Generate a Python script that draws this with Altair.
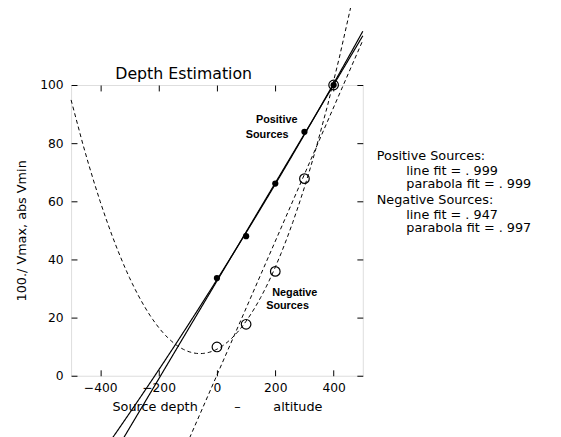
import altair as alt
import pandas as pd

# ---- data ----
src_x = [0, 100, 200, 300, 400]
pos_y = [33.6, 48.0, 66.1, 83.9, 100.0]
neg_y = [9.9, 17.7, 35.9, 67.8, 100.0]

x_ticks = [-400, -200, 0, 200, 400]
y_ticks = [0, 20, 40, 60, 80, 100]

label_text = ["Positive", "Sources", "Negative", "Sources"]
label_x = [205, 172, 267, 242]
label_y = [87.9, 82.8, 28.6, 24.1]

side_text = ["Positive Sources:", "line fit = . 999", "parabola fit = . 999",
             "Negative Sources:", "line fit = . 947", "parabola fit = . 997"]
side_x = [548, 649, 649, 548, 649, 649]
side_y = [75.7, 70.4, 65.9, 60.4, 55.4, 50.8]

title_text = ["Depth Estimation"]
title_x = [-114]
title_y = [103.8]

NB = "\u00a0"
x_title = "Source depth" + NB * 9 + "\u2013" + NB * 8 + "altitude"
y_title = "100./ Vmax, abs Vmin"

pts = pd.DataFrame({
    "x": src_x + src_x,
    "y": pos_y + neg_y,
    "series": ["pos"] * len(src_x) + ["neg"] * len(src_x),
})
ann = pd.DataFrame({"x": label_x, "y": label_y, "t": label_text})
side = pd.DataFrame({"x": side_x, "y": side_y, "t": side_text})
ttl = pd.DataFrame({"x": title_x, "y": title_y, "t": title_text})

W, H = 296, 295
FONT = "DejaVu Sans"
xs = alt.Scale(domain=[-500, 500], nice=False, zero=False)
ys = alt.Scale(domain=[0, 100], nice=False, zero=False)

common = dict(grid=False, domain=False, tickColor="black", tickWidth=1)

x_main = alt.Axis(orient="bottom", values=x_ticks, ticks=False, tickSize=0, labelFontSize=12.5,
                  labelFont=FONT, labelColor="black", labelPadding=6, format="d",
                  title=x_title, titleFont=FONT, titleFontSize=13, titleFontWeight="normal",
                  titleColor="black", titlePadding=7, **common)
x_in_bottom = alt.Axis(orient="top", offset=-H, values=x_ticks, ticks=True, tickSize=6,
                       labels=False, title="", **common)
x_in_top = alt.Axis(orient="bottom", offset=-H, values=x_ticks, ticks=True, tickSize=6,
                    labels=False, title="", **common)

y_main = alt.Axis(orient="left", values=y_ticks, ticks=False, tickSize=0, labelFontSize=12.5,
                  labelFont=FONT, labelColor="black", labelPadding=8, format="d",
                  title=y_title, titleFont=FONT, titleFontSize=13, titleFontWeight="normal",
                  titleColor="black", titlePadding=11, **common)
y_in_left = alt.Axis(orient="right", offset=-W, values=y_ticks, ticks=True, tickSize=6,
                     labels=False, title="", **common)
y_in_right = alt.Axis(orient="left", offset=-W, values=y_ticks, ticks=True, tickSize=6,
                      labels=False, title="", **common)

base = alt.Chart(pts)

pos_pts = base.transform_filter(alt.datum.series == "pos").mark_point(
    filled=True, size=40, color="black", opacity=1
).encode(
    x=alt.X("x:Q", scale=xs, axis=x_main),
    y=alt.Y("y:Q", scale=ys, axis=y_main),
)

neg_pts = base.transform_filter(alt.datum.series == "neg").mark_point(
    filled=False, size=95, color="black", strokeWidth=1.2, opacity=1
).encode(
    x=alt.X("x:Q", scale=xs, axis=x_in_bottom),
    y=alt.Y("y:Q", scale=ys, axis=y_in_left),
)

dash = alt.StrokeDash("series:N", scale=alt.Scale(domain=["pos", "neg"], range=[[1, 0], [4, 3]]),
                      legend=None)
width_enc = alt.StrokeWidth("series:N", scale=alt.Scale(domain=["pos", "neg"], range=[1.2, 1]),
                            legend=None)

lin = base.transform_regression(
    "x", "y", method="linear", groupby=["series"], extent=[-500, 500]
).mark_line(color="black", clip=False).encode(
    x=alt.X("x:Q", scale=xs, axis=x_in_top),
    y=alt.Y("y:Q", scale=ys, axis=y_in_right),
    strokeDash=dash,
    strokeWidth=width_enc,
)

par = base.transform_regression(
    "x", "y", method="poly", order=2, groupby=["series"], extent=[-500, 500]
).mark_line(color="black", clip=False).encode(
    x=alt.X("x:Q", scale=xs, axis=None),
    y=alt.Y("y:Q", scale=ys, axis=None),
    strokeDash=dash,
    strokeWidth=width_enc,
)

ann_layer = alt.Chart(ann).mark_text(
    font="Liberation Sans", fontWeight="bold", fontSize=11, color="black",
    align="center", baseline="middle"
).encode(
    x=alt.X("x:Q", scale=xs, axis=None),
    y=alt.Y("y:Q", scale=ys, axis=None),
    text="t:N",
)

side_layer = alt.Chart(side).mark_text(
    font=FONT, fontSize=13, color="black", align="left", baseline="middle"
).encode(
    x=alt.X("x:Q", scale=xs, axis=None),
    y=alt.Y("y:Q", scale=ys, axis=None),
    text="t:N",
)

title_layer = alt.Chart(ttl).mark_text(
    font=FONT, fontSize=16, color="black", align="center", baseline="middle"
).encode(
    x=alt.X("x:Q", scale=xs, axis=None),
    y=alt.Y("y:Q", scale=ys, axis=None),
    text="t:N",
)

chart = alt.layer(
    pos_pts, neg_pts, lin, par, ann_layer, side_layer, title_layer
).resolve_axis(
    x="independent", y="independent"
).properties(
    width=W, height=H,
    autosize=alt.AutoSizeParams(type="none"),
    padding={"left": 64, "top": 75, "right": 193, "bottom": 59},
).configure_view(
    stroke="black", strokeWidth=1.2
).configure(background="white")

chart.save("out.html", embed_options={"renderer": "svg", "actions": False})
